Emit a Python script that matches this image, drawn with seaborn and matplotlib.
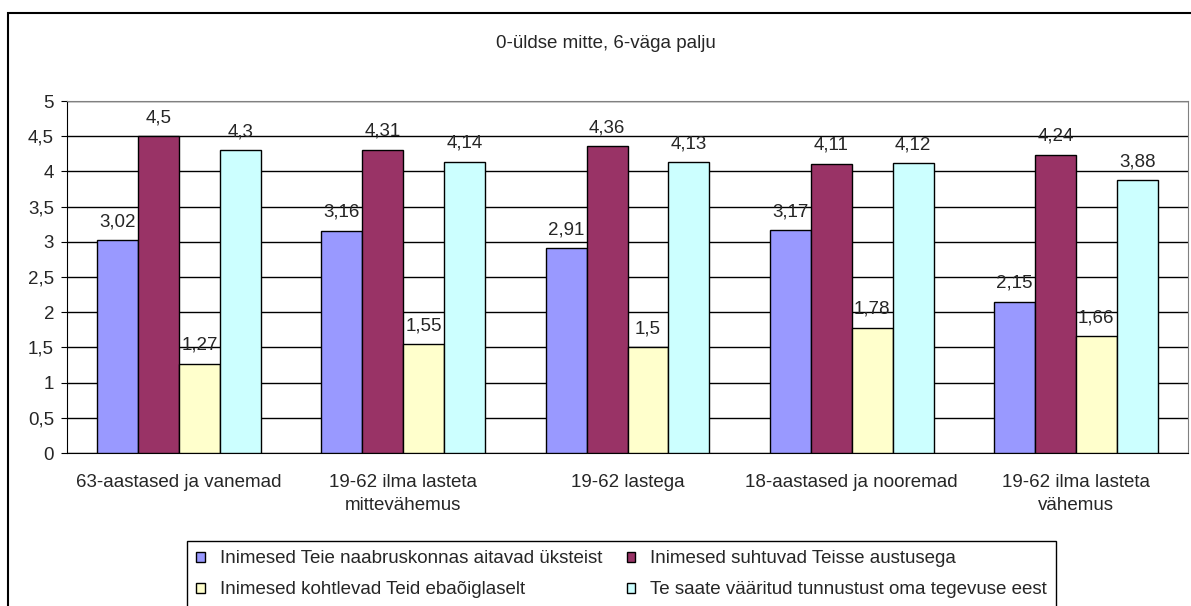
import pandas as pd
import seaborn as sns
import matplotlib.pyplot as plt
from matplotlib.patches import Rectangle
from matplotlib.ticker import FixedLocator

## values
groups = ['63-aastased ja vanemad', '19-62 ilma lasteta\nmittevähemus', '19-62 lastega',
          '18-aastased ja nooremad', '19-62 ilma lasteta\nvähemus']
series = ['Inimesed Teie naabruskonnas aitavad üksteist',
          'Inimesed suhtuvad Teisse austusega',
          'Inimesed kohtlevad Teid ebaõiglaselt',
          'Te saate vääritud tunnustust oma tegevuse eest']
aitavad = [3.02, 3.16, 2.91, 3.17, 2.15]
austusega = [4.5, 4.31, 4.36, 4.11, 4.24]
ebaoiglaselt = [1.27, 1.55, 1.5, 1.78, 1.66]
tunnustust = [4.3, 4.14, 4.13, 4.12, 3.88]
colors = ['#9999FF', '#993366', '#FFFFCC', '#CCFFFF']

rows = []
for name, vals in zip(series, [aitavad, austusega, ebaoiglaselt, tunnustust]):
    for g, v in zip(groups, vals):
        rows.append({'Grupp': g, 'Seeria': name, 'Väärtus': v})
df = pd.DataFrame(rows)

sns.set_style('white')
plt.rcParams['font.family'] = ['Liberation Sans', 'DejaVu Sans']
fs = 13.5
plt.rcParams['font.size'] = fs

fig = plt.figure(figsize=(11.91, 6.06), dpi=100)
ax = fig.add_axes([67 / 1191, 1 - 453 / 606, (1188 - 67) / 1191, (453 - 101) / 606])

sns.barplot(data=df, x='Grupp', y='Väärtus', hue='Seeria', palette=colors, ax=ax,
            width=0.73, gap=0, edgecolor='black', linewidth=1, saturation=1, legend=False, zorder=3)

for c in ax.containers:
    ax.bar_label(c, labels=[f'{b.get_height():g}'.replace('.', ',') for b in c],
                 padding=7, fontsize=fs)

ax.set_ylim(0, 5)
ax.set_xlim(-0.5, 4.5)
ax.set_yticks([i * 0.5 for i in range(11)])
ax.set_yticklabels([f'{i * 0.5:g}'.replace('.', ',') for i in range(11)])
ax.yaxis.grid(True, color='black', linewidth=1, zorder=0)
ax.set_axisbelow(True)
ax.xaxis.set_minor_locator(FixedLocator([i - 0.5 for i in range(6)]))
ax.tick_params(axis='x', which='major', length=0, pad=15, labelsize=fs)
ax.tick_params(axis='x', which='minor', length=4.3, color='black', direction='out')
ax.tick_params(axis='y', length=4.3, color='black', direction='out', left=True, pad=5, labelsize=fs)
for t in ax.get_xticklabels():
    t.set_linespacing(1.45)
ax.set_xlabel('')
ax.set_ylabel('')
for s in ['left', 'bottom']:
    ax.spines[s].set_color('black')
for s in ['top', 'right']:
    ax.spines[s].set_color('#808080')

fig.text(606 / 1191, 1 - 43 / 606, '0-üldse mitte, 6-väga palju', ha='center', va='center', fontsize=fs)

# outer chart border (cut off at right and bottom)
fig.patches.append(Rectangle((8 / 1191, -0.1), 1.2, 1.1 - 13 / 606, transform=fig.transFigure,
                             fill=False, edgecolor='black', linewidth=1.5))

handles = [Rectangle((0, 0), 1, 1, facecolor=c, edgecolor='black', linewidth=1) for c in colors]
order = [0, 2, 1, 3]
leg = fig.legend([handles[i] for i in order], [series[i] for i in order], ncol=2,
                 loc='upper left', bbox_to_anchor=(187 / 1191, 1 - 541 / 606),
                 frameon=True, fancybox=False, edgecolor='black', framealpha=1,
                 handlelength=0.45, handleheight=0.45, handletextpad=0.8, columnspacing=1.3,
                 borderpad=0.5, borderaxespad=0, labelspacing=0.75, fontsize=fs)
leg.get_frame().set_linewidth(1)

plt.savefig('out.png', dpi=100)
